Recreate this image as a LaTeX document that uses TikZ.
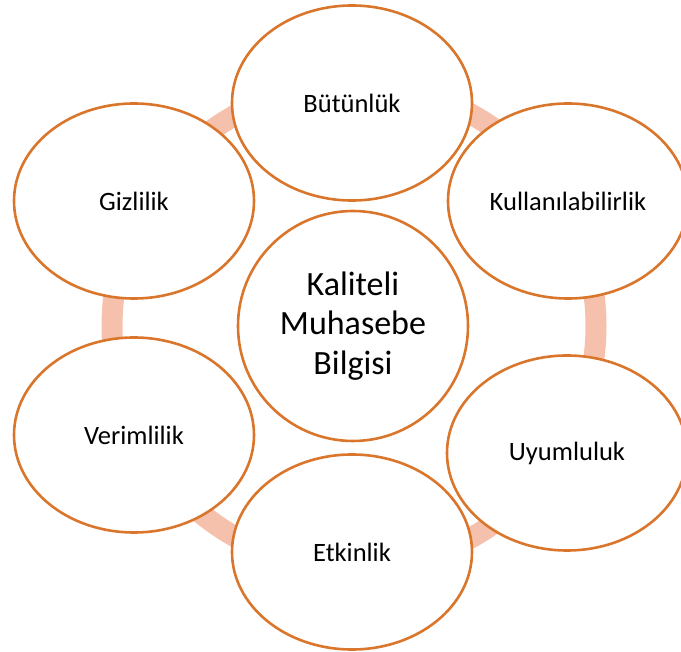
\documentclass[tikz,border=0pt]{standalone}
\usepackage{fontspec}
\setmainfont{Carlito}
\usetikzlibrary{shapes.geometric}
\definecolor{ringc}{RGB}{245,193,172}
\definecolor{edgec}{RGB}{218,118,44}
\begin{document}
\begin{tikzpicture}[x=1pt,y=-1pt,
  outer/.style={ellipse,draw=edgec,line width=2.6pt,fill=white,minimum width=240pt,minimum height=195pt,inner sep=0pt,font=\fontsize{26.5}{31}\selectfont},
  center/.style={circle,draw=edgec,line width=2.6pt,fill=white,minimum size=230pt,inner sep=0pt,align=center,font=\fontsize{34}{39.5}\selectfont}]
\useasboundingbox (0,0) rectangle (681,652);
\coordinate (ringc) at (354,326);
\draw[ringc,line width=21pt] (ringc) circle[radius=242];
\node[center] (k) at (353,326) {Kaliteli\\Muhasebe\\Bilgisi};
\node[outer] (b) at (352,103) {Bütünlük};
\node[outer] (ku) at (568,201) {Kullanılabilirlik};
\node[outer] (u) at (567,453) {Uyumluluk};
\node[outer] (e) at (352,552) {Etkinlik};
\node[outer] (v) at (134,435) {Verimlilik};
\node[outer] (g) at (134,201) {Gizlilik};
\end{tikzpicture}
\end{document}
